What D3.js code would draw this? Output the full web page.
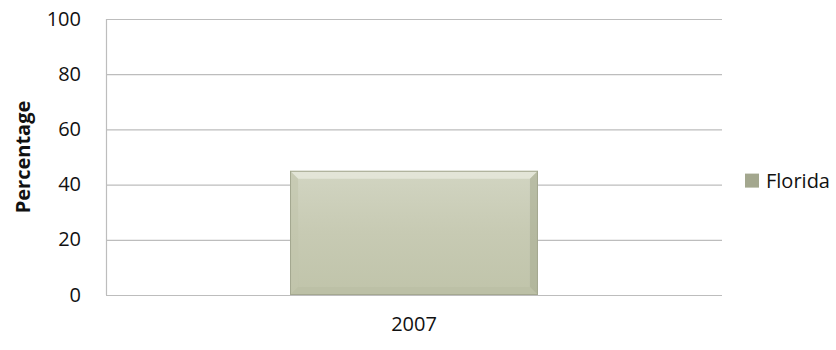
<!DOCTYPE html>
<html><head><meta charset="utf-8">
<script src="https://cdn.jsdelivr.net/npm/d3@7"></script>
<style>body{margin:0;background:#fff}svg{display:block}</style>
</head><body>
<script>
const categories = ["2007"];
const seriesName = "Florida";
const values = [45];
const yTicks = [0, 20, 40, 60, 80, 100];

const W = 836, H = 350;
const m = {left: 106, right: 114, top: 19, bottom: 55};
const svg = d3.select("body").append("svg").attr("width", W).attr("height", H);
const font = "'Open Sans', 'Liberation Sans', sans-serif";
const fs = 20;

const x = d3.scaleBand().domain(categories).range([m.left, W - m.right]).padding(0.426);
const y = d3.scaleLinear().domain([0, 100]).range([H - m.bottom, m.top]);

const defs = svg.append("defs");
const g1 = defs.append("linearGradient").attr("id", "barFill").attr("x1", 0).attr("y1", 0).attr("x2", 0).attr("y2", 1);
g1.append("stop").attr("offset", "0%").attr("stop-color", "#d2d5c2");
g1.append("stop").attr("offset", "50%").attr("stop-color", "#c7cab3");
g1.append("stop").attr("offset", "100%").attr("stop-color", "#c0c4aa");

// gridlines
svg.append("g").selectAll("line").data(yTicks).join("line")
  .attr("x1", m.left).attr("x2", W - m.right)
  .attr("y1", d => y(d) + 0.5).attr("y2", d => y(d) + 0.5)
  .attr("stroke", "#bdbdbd").attr("stroke-width", 1.2);
// left axis line
svg.append("line").attr("x1", m.left + 0.5).attr("x2", m.left + 0.5)
  .attr("y1", y(100)).attr("y2", y(0)).attr("stroke", "#bdbdbd").attr("stroke-width", 1.2);

// y tick labels
const yAxis = d3.axisLeft(y).tickValues(yTicks).tickSize(0).tickPadding(25);
const ya = svg.append("g").attr("transform", `translate(${m.left},0)`).call(yAxis);
ya.select(".domain").remove();
ya.selectAll("text").attr("font-family", font).attr("font-size", fs).attr("fill", "#111").attr("dy", "0.3em");

// bars with soft bevel
const bars = svg.append("g").selectAll("g").data(values).join("g");
bars.each(function(v, i) {
  const gg = d3.select(this);
  const x0 = x(categories[i]), bw = x.bandwidth();
  const y0 = y(v), y1 = y(0), bh = y1 - y0;
  const b = 8;
  gg.append("rect").attr("x", x0).attr("y", y0).attr("width", bw).attr("height", bh).attr("fill", "url(#barFill)");
  gg.append("path").attr("d", `M${x0},${y0}L${x0+bw},${y0}L${x0+bw-b},${y0+b}L${x0+b},${y0+b}Z`).attr("fill", "#eef0e6").attr("opacity", 0.6);
  gg.append("path").attr("d", `M${x0},${y0}L${x0+b},${y0+b}L${x0+b},${y1-b}L${x0},${y1}Z`).attr("fill", "#c2c5ab").attr("opacity", 0.6);
  gg.append("path").attr("d", `M${x0+bw},${y0}L${x0+bw},${y1}L${x0+bw-b},${y1-b}L${x0+bw-b},${y0+b}Z`).attr("fill", "#a9ad92").attr("opacity", 0.6);
  gg.append("path").attr("d", `M${x0},${y1}L${x0+bw},${y1}L${x0+bw-b},${y1-b}L${x0+b},${y1-b}Z`).attr("fill", "#b8bca2").attr("opacity", 0.5);
  gg.append("rect").attr("x", x0 + 0.5).attr("y", y0 + 0.5).attr("width", bw - 1).attr("height", bh - 1)
    .attr("fill", "none").attr("stroke", "#a4a890").attr("stroke-width", 1);
});

// x labels
const xAxis = d3.axisBottom(x).tickSize(0).tickPadding(22);
const xa = svg.append("g").attr("transform", `translate(0,${y(0)})`).call(xAxis);
xa.select(".domain").remove();
xa.selectAll("text").attr("font-family", font).attr("font-size", fs).attr("fill", "#111");

// y title
svg.append("text").attr("transform", `translate(30,${(y(0)+y(100))/2}) rotate(-90)`)
  .attr("text-anchor", "middle").attr("font-family", font).attr("font-size", fs).attr("font-weight", "bold")
  .attr("fill", "#111").text("Percentage");

// legend
const lg = svg.append("g").attr("transform", `translate(745,${y(40) - 4})`);
lg.append("rect").attr("x", 0).attr("y", -7).attr("width", 14).attr("height", 14).attr("fill", "#a3a78e");
lg.append("text").attr("x", 21).attr("y", 0).attr("dy", "0.35em").attr("font-family", font).attr("font-size", fs)
  .attr("fill", "#111").text(seriesName);
</script>
</body></html>
